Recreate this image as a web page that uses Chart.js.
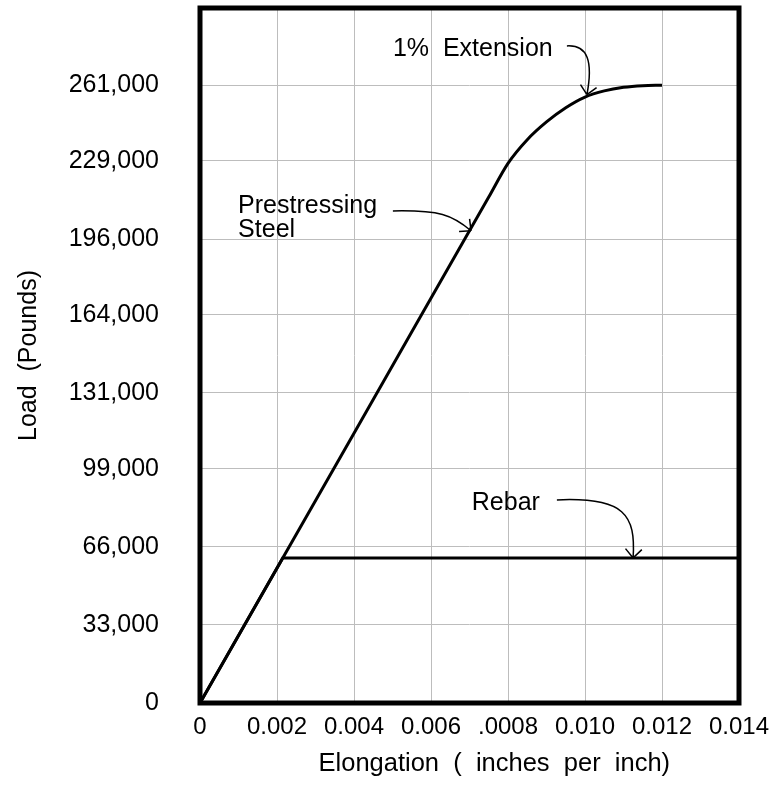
<!DOCTYPE html>
<html>
<head>
<meta charset="utf-8">
<script src="https://cdn.jsdelivr.net/npm/chart.js@4"></script>
<style>
  html, body { margin: 0; padding: 0; background: #fff; }
</style>
</head>
<body>
<canvas id="load-chart" width="774" height="786"></canvas>
<script>
// elongation (in/in) vs load (lb)
const steelX = [0, 0.004, 0.0075, 0.008, 0.0085, 0.009, 0.0095, 0.010, 0.0105, 0.011, 0.0115, 0.012];
const steelY = [0, 114000, 213750, 228000, 238000, 245500, 251500, 256000, 258600, 260100, 260800, 261000];
const rebarX = [0, 0.00215, 0.014];
const rebarY = [0, 61300, 61300];

const xTickVals = [0, 0.002, 0.004, 0.006, 0.008, 0.010, 0.012, 0.014];
const xTickLabels = ["0", "0.002", "0.004", "0.006", ".0008", "0.010", "0.012", "0.014"];
const yTickVals = [0, 33000, 66000, 99000, 131000, 164000, 196000, 229000, 261000];
const yTop = 293625;

const FONT = "'Liberation Sans', Arial, sans-serif";

// callouts, in data units
const notes = [
  { text: ["1%  Extension"], at: [0.00501, 273400],
    arrow: [[0.00953, 277600], [0.01008, 278100], [0.01021, 270900], [0.01005, 257000]] },
  { text: ["Prestressing", "Steel"], at: [0.00099, 207100],
    arrow: [[0.00501, 207900], [0.00623, 208300], [0.00655, 206200], [0.00704, 199500]] },
  { text: ["Rebar"], at: [0.00706, 81600],
    arrow: [[0.00927, 85800], [0.01104, 87100], [0.01132, 79400], [0.01125, 61300]] }
];

const pts = (xs, ys) => xs.map((x, i) => ({ x: x, y: ys[i] }));

const frame = {
  id: 'frame',
  afterDraw(chart) {
    const { ctx, chartArea: a, scales: { x, y } } = chart;
    ctx.save();
    ctx.strokeStyle = '#000';
    ctx.lineWidth = 5;
    ctx.strokeRect(a.left, a.top, a.right - a.left, a.bottom - a.top);

    ctx.fillStyle = '#000';
    ctx.font = '25px ' + FONT;
    ctx.textBaseline = 'alphabetic';
    ctx.lineWidth = 1.5;
    notes.forEach(n => {
      const tx = x.getPixelForValue(n.at[0]);
      const ty = y.getPixelForValue(n.at[1]);
      n.text.forEach((t, i) => ctx.fillText(t, tx, ty + i * 24));
      const p = n.arrow.map(q => [x.getPixelForValue(q[0]), y.getPixelForValue(q[1])]);
      ctx.beginPath();
      ctx.moveTo(p[0][0], p[0][1]);
      ctx.bezierCurveTo(p[1][0], p[1][1], p[2][0], p[2][1], p[3][0], p[3][1]);
      const ang = Math.atan2(p[3][1] - p[2][1], p[3][0] - p[2][0]) + Math.PI;
      [-0.75, 0.75].forEach(d => {
        ctx.moveTo(p[3][0], p[3][1]);
        ctx.lineTo(p[3][0] + 12 * Math.cos(ang + d), p[3][1] + 12 * Math.sin(ang + d));
      });
      ctx.stroke();
    });
    ctx.restore();
  }
};

new Chart(document.getElementById("load-chart"), {
  type: 'line',
  data: {
    datasets: [
      { label: "Prestressing Steel", data: pts(steelX, steelY), borderColor: "#000", borderWidth: 3,
        pointRadius: 0, cubicInterpolationMode: 'monotone' },
      { label: "Rebar", data: pts(rebarX, rebarY), borderColor: "#000", borderWidth: 3, pointRadius: 0, tension: 0 }
    ]
  },
  options: {
    responsive: false,
    animation: false,
    layout: { padding: { top: 8, right: 35, bottom: 0, left: 0 } },
    plugins: { legend: { display: false }, tooltip: { enabled: false } },
    scales: {
      x: {
        type: 'linear',
        min: 0,
        max: 0.014,
        afterBuildTicks: s => { s.ticks = xTickVals.map(v => ({ value: v })); },
        afterFit: s => { s.height = 83; s.paddingLeft = 0; s.paddingRight = 0; },
        ticks: {
          callback: (v, i) => xTickLabels[i],
          color: '#000',
          font: { family: FONT, size: 24 },
          padding: 10,
          maxRotation: 0
        },
        grid: { color: '#bdbdbd', drawTicks: false },
        border: { display: false },
        title: {
          display: true,
          // leading spaces nudge it right, as in the original
          text: '       Elongation  (  inches  per  inch)',
          color: '#000',
          font: { family: FONT, size: 25.5 },
          padding: { top: 10, bottom: 7 }
        }
      },
      y: {
        min: 0,
        max: yTop,
        afterBuildTicks: s => { s.ticks = yTickVals.concat([yTop]).map(v => ({ value: v })); },
        afterFit: s => { s.width = 200; s.paddingTop = 0; s.paddingBottom = 0; },
        ticks: {
          callback: v => yTickVals.includes(v) ? v.toLocaleString('en-US') : '',
          color: '#000',
          font: { family: FONT, size: 25 },
          padding: 41
        },
        grid: { color: '#bdbdbd', drawTicks: false },
        border: { display: false },
        title: {
          display: true,
          text: 'Load  (Pounds)',
          color: '#000',
          font: { family: FONT, size: 25 },
          padding: { top: 14, bottom: 25 }
        }
      }
    }
  },
  plugins: [frame]
});
</script>
</body>
</html>
